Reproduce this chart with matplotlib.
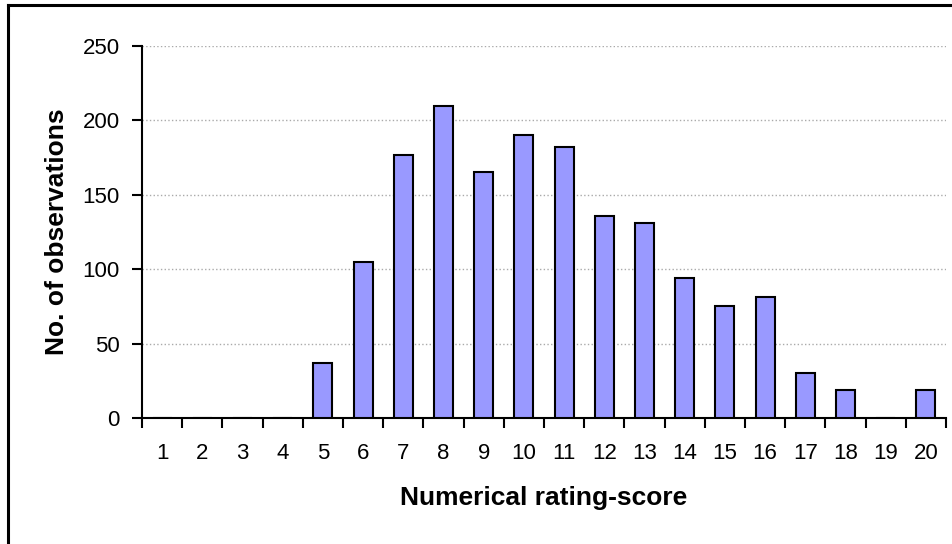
import numpy as np
import matplotlib.pyplot as plt
from matplotlib.lines import Line2D

# === Data ===
scores = list(range(1, 21))
counts = [0, 0, 0, 0, 37, 105, 177, 210, 165, 190,
          182, 136, 131, 94, 75, 81, 30, 19, 0, 19]
y_ticks = [0, 50, 100, 150, 200, 250]

plt.rcParams['font.family'] = ['Liberation Sans', 'DejaVu Sans']

W, H = 952, 544

# === Figure ===
fig = plt.figure(figsize=(W / 100, H / 100), dpi=100)
ax = fig.add_axes([142 / W, 1 - 418 / H, (946 - 142) / W, (418 - 46) / H])

# chart-area frame (only top and left edge visible in the crop)
fig.add_artist(Line2D([7.5 / W, 7.5 / W], [0, 1 - 5 / H], color='black', lw=2.2,
                      transform=fig.transFigure))
fig.add_artist(Line2D([7.5 / W, 1], [1 - 5 / H, 1 - 5 / H], color='black', lw=2.2,
                      transform=fig.transFigure))

ax.bar(scores, counts, width=0.47, color='#9999FF', edgecolor='black', linewidth=1.5, zorder=3)

ax.set_xlim(0.5, 20.5)
ax.set_ylim(0, 250)
ax.set_yticks(y_ticks)
ax.yaxis.grid(True, color='#aaaaaa', linestyle=':', linewidth=1.0, zorder=0)

# category ticks between bars, labels centred under bars
ax.set_xticks(np.arange(0.5, 21, 1))
ax.set_xticklabels([])
ax.set_xticks(scores, minor=True)
ax.set_xticklabels([str(s) for s in scores], minor=True, fontsize=16)
ax.tick_params(axis='x', which='minor', length=0, pad=18)
ax.tick_params(axis='x', which='major', length=7, width=1.5, direction='out')
ax.tick_params(axis='y', length=7, width=1.5, direction='out', labelsize=16, pad=9)

for side in ['top', 'right']:
    ax.spines[side].set_visible(False)
for side in ['left', 'bottom']:
    ax.spines[side].set_linewidth(1.5)

ax.set_ylabel('No. of observations', fontsize=19, fontweight='bold', labelpad=10)
ax.set_xlabel('Numerical rating-score', fontsize=19, fontweight='bold', labelpad=16)

fig.savefig('out.png', dpi=100)
